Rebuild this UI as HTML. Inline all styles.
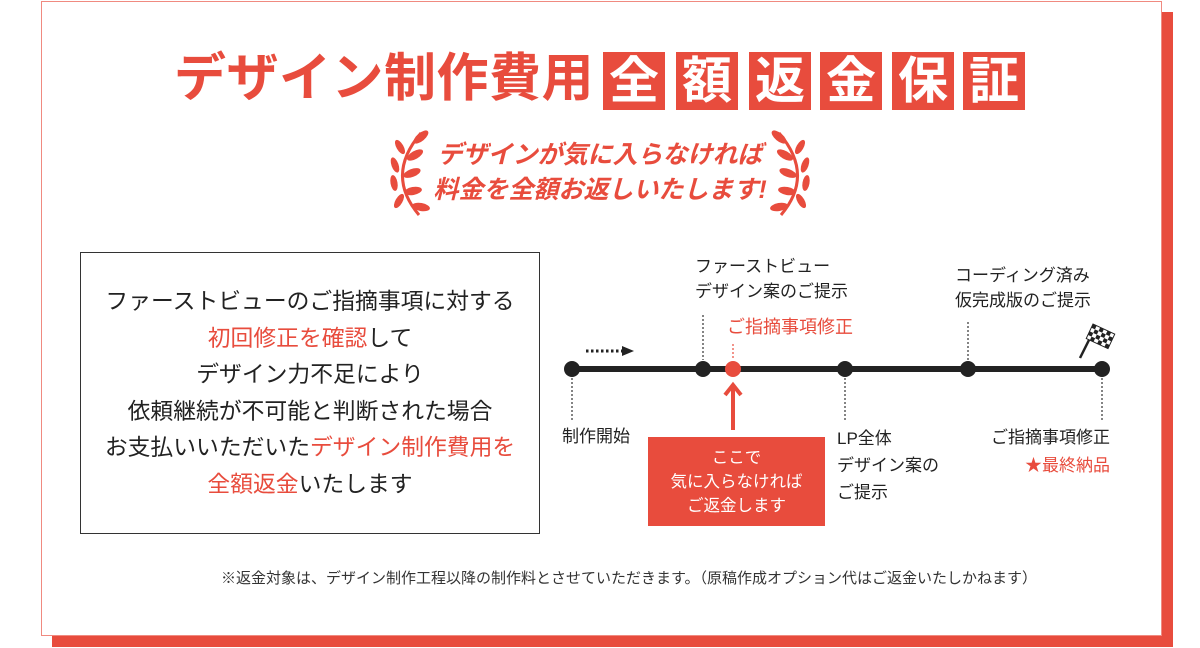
<!DOCTYPE html>
<html><head><meta charset="utf-8"><style>
*{margin:0;padding:0;box-sizing:border-box}
body{width:1200px;height:648px;background:#fff;position:relative;overflow:hidden;font-family:"Liberation Sans","Noto Sans CJK JP",sans-serif;color:#222}
.a{position:absolute;white-space:nowrap}
.t{font-size:17px;line-height:25px;color:#222}
.r{color:#e84c3d}
.box{position:absolute;top:52px;width:62px;height:58px;background:#e84c3d;color:#fff;font-size:50px;font-weight:bold;text-align:center;line-height:58px}
</style></head><body>
<div class="a" style="left:52px;top:12px;width:1121px;height:635px;background:#e84c3d"></div>
<div class="a" style="left:41px;top:1px;width:1121px;height:635px;background:#fff;border:1px solid #f08a80"></div>

<div class="a r" style="left:174px;top:46px;font-size:52px;font-weight:bold;letter-spacing:0.5px;line-height:66px">デザイン制作費用</div>
<div class="box" style="left:603px">全</div>
<div class="box" style="left:676px">額</div>
<div class="box" style="left:749px">返</div>
<div class="box" style="left:820px">金</div>
<div class="box" style="left:892px">保</div>
<div class="box" style="left:963px">証</div>

<svg class="a" style="left:385px;top:125px" width="430" height="95" viewBox="0 0 430 95">
<g fill="#e84c3d">
<path d="M34 90 Q0 50 36 8" stroke="#e84c3d" stroke-width="3" fill="none"/>
<ellipse cx="36" cy="12" rx="9" ry="4" transform="rotate(-40 36 12)"/>
<ellipse cx="15" cy="22" rx="8" ry="3.5" transform="rotate(60 15 22)"/>
<ellipse cx="30" cy="30" rx="9" ry="4" transform="rotate(-30 30 30)"/>
<ellipse cx="10" cy="40" rx="8" ry="3.5" transform="rotate(70 10 40)"/>
<ellipse cx="27" cy="48" rx="9" ry="4" transform="rotate(-20 27 48)"/>
<ellipse cx="9" cy="58" rx="8" ry="3.5" transform="rotate(80 9 58)"/>
<ellipse cx="28" cy="66" rx="9" ry="4" transform="rotate(-10 28 66)"/>
<ellipse cx="14" cy="76" rx="8" ry="3.5" transform="rotate(-60 14 76)"/>
<ellipse cx="36" cy="82" rx="9" ry="4" transform="rotate(10 36 82)"/>
<path d="M396 90 Q430 50 394 8" stroke="#e84c3d" stroke-width="3" fill="none"/>
<ellipse cx="394" cy="12" rx="9" ry="4" transform="rotate(40 394 12)"/>
<ellipse cx="415" cy="22" rx="8" ry="3.5" transform="rotate(-60 415 22)"/>
<ellipse cx="400" cy="30" rx="9" ry="4" transform="rotate(30 400 30)"/>
<ellipse cx="420" cy="40" rx="8" ry="3.5" transform="rotate(-70 420 40)"/>
<ellipse cx="403" cy="48" rx="9" ry="4" transform="rotate(20 403 48)"/>
<ellipse cx="421" cy="58" rx="8" ry="3.5" transform="rotate(-80 421 58)"/>
<ellipse cx="402" cy="66" rx="9" ry="4" transform="rotate(10 402 66)"/>
<ellipse cx="416" cy="76" rx="8" ry="3.5" transform="rotate(60 416 76)"/>
<ellipse cx="394" cy="82" rx="9" ry="4" transform="rotate(-10 394 82)"/>
</g></svg>
<div class="a r" style="left:0;width:1200px;text-align:center;top:138px;font-size:25px;font-weight:bold;font-style:italic;line-height:35px">デザインが気に入らなければ<br>料金を全額お返しいたします!</div>

<div class="a" style="left:80px;top:252px;width:460px;height:282px;border:1px solid #333"></div>
<div class="a" style="left:80px;width:460px;top:283px;text-align:center;font-size:22.8px;line-height:36.5px;color:#222">ファーストビューのご指摘事項に対する<br><span class="r">初回修正を確認</span>して<br>デザイン力不足により<br>依頼継続が不可能と判断された場合<br>お支払いいただいた<span class="r">デザイン制作費用を</span><br><span class="r">全額返金</span>いたします</div>

<svg class="a" style="left:0;top:0" width="1200" height="648">
<g stroke="#333" stroke-width="1.2" stroke-dasharray="2 2">
<line x1="572" y1="378" x2="572" y2="420"/>
<line x1="703" y1="315" x2="703" y2="360"/>
<line x1="845" y1="378" x2="845" y2="420"/>
<line x1="968" y1="322" x2="968" y2="360"/>
<line x1="1102" y1="378" x2="1102" y2="420"/>
</g>
<line x1="733" y1="344" x2="733" y2="360" stroke="#e84c3d" stroke-width="1.2" stroke-dasharray="2 2"/>
<line x1="572" y1="369" x2="1102" y2="369" stroke="#222" stroke-width="6"/>
<g fill="#222"><circle cx="572" cy="369" r="8"/><circle cx="703" cy="369" r="8"/><circle cx="845" cy="369" r="8"/><circle cx="968" cy="369" r="8"/><circle cx="1102" cy="369" r="8"/></g>
<circle cx="733" cy="369" r="8" fill="#e84c3d"/>
<line x1="586" y1="351" x2="624" y2="351" stroke="#222" stroke-width="3" stroke-dasharray="2.5 2.5"/>
<path d="M622 346 L634 351 L622 356 Z" fill="#222"/>
<line x1="733" y1="430" x2="733" y2="387" stroke="#e84c3d" stroke-width="4"/>
<path d="M725 395 L733 385 L741 395" stroke="#e84c3d" stroke-width="4" fill="none"/>
<line x1="1080" y1="358" x2="1095" y2="328" stroke="#222" stroke-width="2.5"/>
<g transform="translate(1093,324) rotate(25)">
<rect x="0" y="0" width="24" height="16" fill="#fff" stroke="#222" stroke-width="1"/>
<g fill="#222"><rect x="0" y="0" width="4" height="4"/><rect x="8" y="0" width="4" height="4"/><rect x="16" y="0" width="4" height="4"/><rect x="4" y="4" width="4" height="4"/><rect x="12" y="4" width="4" height="4"/><rect x="20" y="4" width="4" height="4"/><rect x="0" y="8" width="4" height="4"/><rect x="8" y="8" width="4" height="4"/><rect x="16" y="8" width="4" height="4"/><rect x="4" y="12" width="4" height="4"/><rect x="12" y="12" width="4" height="4"/><rect x="20" y="12" width="4" height="4"/></g>
</g>
</svg>

<div class="a t" style="left:695px;top:254px">ファーストビュー<br>デザイン案のご提示</div>
<div class="a t r" style="left:727px;top:315px;font-size:18px">ご指摘事項修正</div>
<div class="a t" style="left:955px;top:263px">コーディング済み<br>仮完成版のご提示</div>
<div class="a t" style="left:562px;top:424px">制作開始</div>
<div class="a t" style="left:837px;top:425px;line-height:27px">LP全体<br>デザイン案の<br>ご提示</div>
<div class="a t" style="left:960px;top:424px;text-align:right;width:150px;line-height:28px">ご指摘事項修正<br><span class="r">★最終納品</span></div>
<div class="a" style="left:648px;top:437px;width:177px;height:89px;background:#e84c3d;color:#fff;font-size:16.5px;line-height:24px;text-align:center;padding-top:9px">ここで<br>気に入らなければ<br>ご返金します</div>

<div class="a" style="left:0;width:1258px;text-align:center;top:567px;font-size:15px;color:#333">※返金対象は、デザイン制作工程以降の制作料とさせていただきます。（原稿作成オプション代はご返金いたしかねます）</div>
</body></html>
